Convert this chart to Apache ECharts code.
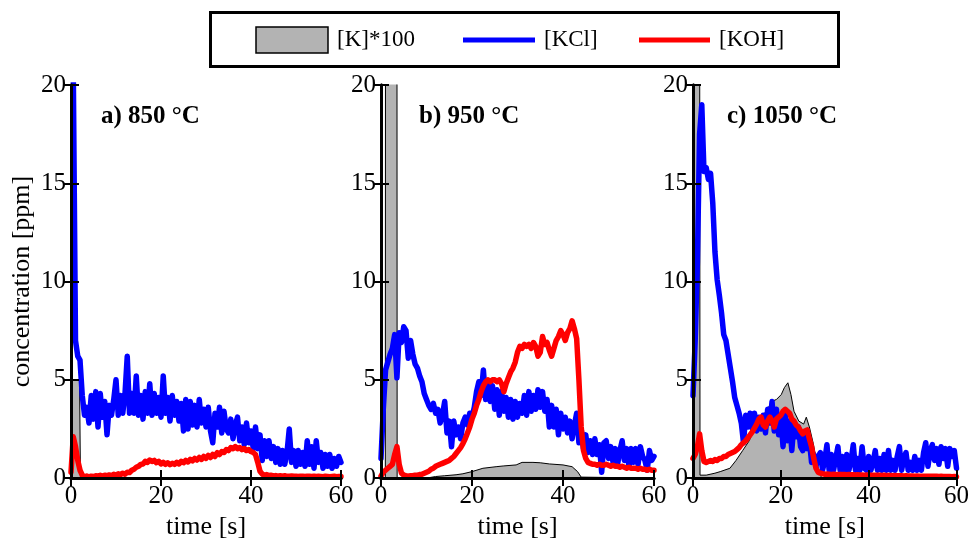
<!DOCTYPE html>
<html>
<head>
<meta charset="utf-8">
<script src="https://cdn.jsdelivr.net/npm/echarts@6/dist/echarts.min.js"></script>
<style>
html,body{margin:0;padding:0;background:#fff;}
#c{width:972px;height:545px;}
</style>
</head>
<body>
<div id="c"></div>
<script>
// sampling interval of the KCl / KOH traces [s]
const DT = 0.5;

const panelTitles = ['a) 850 °C', 'b) 950 °C', 'c) 1050 °C'];
const xTicks = [0, 20, 40, 60];
const yTicks = [0, 5, 10, 15, 20];
const seriesNames = ['[K]*100', '[KCl]', '[KOH]'];

// ---- panel a (850 °C) ----
const kA = [[0, 5], [1.9, 5], [2.1, 0], [60, 0]];
const kclA = [
  26, 21, 7.0, 6.2, 6.0, 4.2, 3.2, 3.6, 2.8, 4.2,
  3.0, 4.4, 2.6, 4.3, 3.1, 3.9, 2.2, 3.7, 3.2, 4.0,
  5.0, 3.2, 4.2, 3.3, 4.3, 6.2, 3.3, 4.3, 3.3, 5.2,
  3.2, 4.2, 3.0, 4.4, 3.3, 4.8, 3.2, 4.3, 3.3, 4.1,
  3.1, 5.2, 3.3, 4.1, 2.9, 4.2, 3.2, 3.9, 2.9, 3.8,
  2.4, 4.0, 2.5, 3.9, 2.7, 3.7, 2.6, 4.0, 2.8, 3.5,
  2.6, 3.6, 2.4, 1.8, 3.3, 2.6, 3.6, 2.3, 3.4, 2.5,
  2.3, 3.0, 2.0, 2.7, 3.1, 1.9, 2.6, 1.7, 2.8, 1.8,
  2.4, 1.5, 2.6, 1.5, 2.2, 0.9, 1.9, 1.1, 1.9, 1.0,
  1.6, 0.8, 1.5, 0.7, 1.4, 0.7, 1.3, 2.5, 0.8, 1.4,
  0.6, 1.4, 0.7, 1.3, 0.6, 1.9, 0.7, 1.6, 0.5, 1.9,
  0.8, 1.3, 0.5, 1.2, 0.6, 1.2, 0.5, 1.0, 0.6, 1.1,
  0.8
];
const kohA = [
  0.3, 2.1, 1.6, 0.9, 0.4, 0.15, 0.05, 0.1, 0.05, 0.1,
  0.08, 0.12, 0.1, 0.14, 0.1, 0.15, 0.12, 0.16, 0.12, 0.2,
  0.15, 0.22, 0.18, 0.25, 0.2, 0.3, 0.28, 0.4, 0.45, 0.55,
  0.6, 0.7, 0.72, 0.85, 0.8, 0.92, 0.85, 0.9, 0.78, 0.85,
  0.72, 0.8, 0.7, 0.78, 0.68, 0.75, 0.7, 0.8, 0.72, 0.85,
  0.78, 0.9, 0.82, 0.95, 0.88, 1.0, 0.92, 1.05, 0.95, 1.1,
  1.0, 1.15, 1.05, 1.2, 1.1, 1.3, 1.2, 1.35, 1.3, 1.45,
  1.4, 1.55, 1.5, 1.6, 1.5, 1.55, 1.45, 1.5, 1.4, 1.45,
  1.35, 1.3, 1.2, 0.8, 0.35, 0.2, 0.15, 0.18,
  0.12, 0.15, 0.1, 0.13, 0.1, 0.12, 0.1, 0.12, 0.09, 0.1,
  0.11, 0.09, 0.1, 0.08, 0.1, 0.09, 0.08, 0.1, 0.09, 0.08,
  0.1, 0.08, 0.09, 0.08, 0.07, 0.09, 0.08, 0.07, 0.08, 0.09,
  0.07, 0.08, 0.08
];

// ---- panel b (950 °C) ----
const kB = [[0, 0], [0.95, 0], [1.0, 30], [3.5, 30], [3.55, 0], [10, 0], [12, 0.08], [14, 0.12],
  [16.5, 0.17], [18, 0.22], [20, 0.33], [22.4, 0.5], [25.3, 0.58], [27, 0.62], [29.7, 0.67],
  [31, 0.8], [33.4, 0.8], [35, 0.78], [37, 0.72], [40, 0.67], [42, 0.58], [43.2, 0.33],
  [44, 0.05], [44.3, 0], [60, 0]];
const kclB = [
  1.0, 3.5, 5.5, 5.9, 6.3, 6.6, 7.3, 5.1, 7.4, 6.9,
  7.7, 7.5, 6.1, 7.0, 6.3, 5.8, 5.6, 5.2, 4.9, 4.3,
  4.0, 3.7, 3.5, 3.8, 3.3, 3.5, 2.8, 3.2, 3.9, 2.3,
  2.9, 1.6, 2.9, 2.2, 2.6, 2.0, 2.8, 3.1, 2.7, 3.3,
  3.1, 3.6, 4.4, 4.9, 4.2, 5.5, 4.0, 4.8, 3.9, 4.7,
  3.5, 4.5, 3.2, 4.4, 3.4, 4.1, 3.1, 4.0, 3.0, 3.9,
  3.1, 3.8, 3.3, 4.2, 3.2, 4.4, 3.4, 4.2, 3.5, 4.5,
  3.6, 4.4, 3.4, 4.0, 2.6, 3.7, 2.6, 3.5, 2.2, 3.3,
  2.5, 3.1, 2.3, 2.9, 2.0, 2.7, 3.3, 1.8, 2.5, 1.5,
  2.2, 1.3, 1.9, 1.2, 2.0, 1.2, 1.7, 0.3, 1.8, 1.9,
  1.0, 1.6, 0.8, 1.5, 0.7, 1.4, 1.9, 0.9, 1.5, 0.6,
  1.5, 0.8, 1.5, 0.7, 1.6, 1.1, 0.9, 0.4, 1.4, 0.9,
  1.1
];
const kohB = [
  0.1, 0.3, 0.4, 0.5, 0.6, 0.7, 1.2, 1.6, 0.7, 0.25,
  0.15, 0.12, 0.1, 0.12, 0.12, 0.15, 0.15, 0.18, 0.2, 0.25,
  0.3, 0.35, 0.45, 0.5, 0.6, 0.65, 0.7, 0.75, 0.8, 0.85,
  0.9, 1.0, 1.1, 1.25, 1.4, 1.55, 1.75, 2.0, 2.3, 2.6,
  3.0, 3.3, 3.7, 4.0, 4.4, 4.7, 4.9, 5.0, 4.9, 5.0,
  5.0, 4.9, 5.0, 4.8, 4.4, 4.8, 5.1, 5.4, 5.6, 5.9,
  6.4, 6.7, 6.6, 6.8, 6.7, 6.8, 6.6, 6.9, 6.7, 6.2,
  6.4, 7.2, 6.8, 6.9, 6.5, 6.2, 6.6, 7.0, 7.2, 7.5,
  7.3, 7.0, 7.4, 7.6, 8.0, 7.6, 7.1, 5.0, 2.6, 1.4,
  1.0, 0.8, 0.75, 0.7, 0.7, 0.65, 0.7, 0.65, 0.65, 0.7,
  0.65, 0.6, 0.65, 0.6, 0.6, 0.55, 0.6, 0.55, 0.5, 0.55,
  0.5, 0.5, 0.5, 0.45, 0.5, 0.45, 0.45, 0.4, 0.45, 0.4,
  0.4
];

// ---- panel c (1050 °C) ----
const kC = [[0, 30], [1.5, 30], [1.6, 0.15], [3, 0.15], [5, 0.25], [6.2, 0.33], [8.4, 0.5],
  [9.8, 0.9], [11.3, 1.4], [12.8, 1.9], [14.2, 2.6], [15.7, 3.1], [17.2, 3.6], [17.9, 3.9],
  [19, 4.0], [20.1, 4.25], [20.8, 4.6], [21.6, 4.85], [22.3, 4.25], [23, 3.4], [24.1, 2.9],
  [25.2, 2.75], [25.8, 3.1], [26.5, 2.6], [27.4, 1.75], [28.2, 0.75], [28.9, 0.25], [29.3, 0], [60, 0]];
const kclC = [
  4.2, 7.0, 11.0, 17.5, 19.0, 15.6, 15.8, 15.2, 15.5, 14.0,
  11.5, 10.1, 9.3, 8.4, 7.3, 7.0, 6.3, 5.6, 4.9, 4.1,
  3.7, 3.3, 2.8, 1.8, 3.2, 2.6, 3.3, 2.5, 3.3, 2.4,
  3.1, 2.5, 3.2, 2.3, 3.5, 2.8, 3.9, 2.4, 3.5, 2.2,
  3.1, 1.6, 3.2, 1.9, 2.9, 1.4, 2.8, 2.1, 2.6, 1.6,
  1.4, 2.3, 1.5, 1.9, 0.8, 1.2, 0.6, 1.1, 1.3, 0.4,
  0.9, 1.7, 0.4, 1.2, 0.4, 1.0, 1.6, 0.4, 1.1, 0.4,
  1.2, 0.4, 0.9, 1.7, 0.4, 1.0, 0.4, 1.6, 0.5, 0.4,
  1.1, 0.4, 0.8, 1.4, 0.4, 1.0, 0.4, 1.2, 0.4, 1.4,
  0.4, 0.9, 0.4, 1.1, 1.6, 0.4, 1.0, 1.3, 0.4, 0.8,
  0.4, 1.1, 0.4, 0.9, 0.4, 1.3, 1.8, 0.6, 1.4, 1.7,
  0.9, 1.5, 0.7, 1.6, 1.0, 1.5, 0.6, 1.5, 1.1, 1.4,
  0.5
];
const kohC = [
  1.0, 1.2, 1.6, 2.25, 1.4, 0.85, 0.8, 0.85, 0.9, 0.85,
  0.95, 0.9, 1.0, 1.0, 1.1, 1.1, 1.2, 1.25, 1.3, 1.35,
  1.45, 1.55, 1.7, 1.8, 1.9, 2.05, 2.2, 2.35, 2.55, 2.75,
  3.0, 3.1, 2.7, 2.6, 2.9, 3.1, 2.9, 2.6, 3.0, 3.1,
  3.2, 3.4, 3.5, 3.4, 3.3, 3.0, 2.9, 2.7, 2.6, 2.4,
  2.25, 2.4, 2.45, 2.0, 1.6, 1.0, 0.5, 0.3, 0.25, 0.22,
  0.2, 0.21, 0.2, 0.19, 0.2, 0.19, 0.18, 0.19, 0.18, 0.18,
  0.17, 0.18, 0.17, 0.17, 0.16, 0.17, 0.16, 0.16, 0.15, 0.16,
  0.15, 0.15, 0.14, 0.15, 0.14, 0.14, 0.13, 0.14, 0.13, 0.13,
  0.13, 0.12, 0.13, 0.12, 0.12, 0.12, 0.11, 0.12, 0.11, 0.11,
  0.11, 0.1, 0.11, 0.1, 0.1, 0.1, 0.1, 0.09, 0.1, 0.09,
  0.09, 0.09, 0.08, 0.09, 0.08, 0.08, 0.08, 0.08, 0.07, 0.08,
  0.07
];

const FONT = 'Liberation Serif';
const panels = [
  { k: kA, kcl: kclA, koh: kohA, left: 71, width: 270, titleX: 101 },
  { k: kB, kcl: kclB, koh: kohB, left: 381, width: 273, titleX: 419 },
  { k: kC, kcl: kclC, koh: kohC, left: 693, width: 273, titleX: 727 }
];
const TOP = 85, HEIGHT = 400;

function timed(vals) { return vals.map((v, i) => [i * DT, v]); }

const grids = [], xAxes = [], yAxes = [], series = [], graphics = [];
const lblStyle = { fontFamily: FONT, fontSize: 25, color: '#000' };

panels.forEach((p, i) => {
  grids.push({ left: p.left, top: TOP, width: p.width, height: HEIGHT, containLabel: false });
  const axLine = { show: true, lineStyle: { color: '#000', width: 3 } };
  const tick = { show: true, inside: true, length: 8, lineStyle: { color: '#000', width: 2 } };
  xAxes.push({
    gridIndex: i, type: 'value', min: xTicks[0], max: xTicks[xTicks.length - 1], interval: xTicks[1] - xTicks[0],
    position: 'bottom', z: 10, axisLine: axLine, axisTick: tick, splitLine: { show: false },
    axisLabel: Object.assign({ margin: 6 }, lblStyle),
    name: 'time [s]', nameLocation: 'middle', nameGap: 33,
    nameTextStyle: { fontFamily: FONT, fontSize: 26, color: '#000' }
  });
  xAxes.push({
    gridIndex: i, type: 'value', min: xTicks[0], max: xTicks[xTicks.length - 1], interval: xTicks[1] - xTicks[0],
    position: 'top', z: 10, axisLine: axLine, axisTick: tick, splitLine: { show: false },
    axisLabel: { show: false }
  });
  yAxes.push(Object.assign({
    gridIndex: i, type: 'value', min: yTicks[0], max: yTicks[yTicks.length - 1], interval: yTicks[1] - yTicks[0],
    position: 'left', z: 10, axisLine: axLine, axisTick: tick, splitLine: { show: false },
    axisLabel: Object.assign({ margin: 5 }, lblStyle)
  }, i === 0 ? {
    name: 'concentration [ppm]', nameLocation: 'middle', nameGap: 36, nameRotate: 90,
    nameTextStyle: { fontFamily: FONT, fontSize: 26, color: '#000' }
  } : {}));
  yAxes.push({
    gridIndex: i, type: 'value', min: yTicks[0], max: yTicks[yTicks.length - 1], interval: yTicks[1] - yTicks[0],
    position: 'right', z: 10, axisLine: axLine, axisTick: tick, splitLine: { show: false },
    axisLabel: { show: false }
  });
  series.push({
    name: seriesNames[0], type: 'line', xAxisIndex: 2 * i, yAxisIndex: 2 * i, data: p.k,
    showSymbol: false, symbol: 'none', z: 1, clip: true,
    lineStyle: { color: '#000', width: 1 }, itemStyle: { color: '#b3b3b3' },
    areaStyle: { color: '#b3b3b3', opacity: 1 }
  });
  series.push({
    name: seriesNames[1], type: 'line', xAxisIndex: 2 * i, yAxisIndex: 2 * i, data: timed(p.kcl),
    showSymbol: false, symbol: 'none', z: 2, clip: true,
    lineStyle: { color: '#0000ff', width: 5.5, cap: 'round', join: 'round' }, itemStyle: { color: '#0000ff' }
  });
  series.push({
    name: seriesNames[2], type: 'line', xAxisIndex: 2 * i, yAxisIndex: 2 * i, data: timed(p.koh),
    showSymbol: false, symbol: 'none', z: 3, clip: true,
    lineStyle: { color: '#ff0000', width: 5.5, cap: 'round', join: 'round' }, itemStyle: { color: '#ff0000' }
  });
  graphics.push({
    type: 'text', left: p.titleX, top: 104, z: 20,
    style: { text: panelTitles[i], font: 'bold 25px "Liberation Serif"', fill: '#000' }
  });
});

// legend box
graphics.push({ type: 'rect', z: 20, shape: { x: 210.5, y: 12.5, width: 628, height: 54 },
  style: { fill: '#fff', stroke: '#000', lineWidth: 3 } });
graphics.push({ type: 'rect', z: 21, shape: { x: 256, y: 27, width: 72, height: 26 },
  style: { fill: '#b3b3b3', stroke: '#000', lineWidth: 1.5 } });
graphics.push({ type: 'text', z: 21, x: 337, y: 40,
  style: { text: seriesNames[0], font: '23px "Liberation Serif"', fill: '#000', verticalAlign: 'middle' } });
graphics.push({ type: 'line', z: 21, shape: { x1: 463, y1: 40, x2: 535, y2: 40 },
  style: { stroke: '#0000ff', lineWidth: 5 } });
graphics.push({ type: 'text', z: 21, x: 544, y: 40,
  style: { text: seriesNames[1], font: '23px "Liberation Serif"', fill: '#000', verticalAlign: 'middle' } });
graphics.push({ type: 'line', z: 21, shape: { x1: 639, y1: 40, x2: 710, y2: 40 },
  style: { stroke: '#ff0000', lineWidth: 5 } });
graphics.push({ type: 'text', z: 21, x: 719, y: 40,
  style: { text: seriesNames[2], font: '23px "Liberation Serif"', fill: '#000', verticalAlign: 'middle' } });

const chart = echarts.init(document.getElementById('c'), null, { renderer: 'canvas' });
chart.setOption({
  backgroundColor: '#fff',
  animation: false,
  textStyle: { fontFamily: FONT },
  grid: grids,
  xAxis: xAxes,
  yAxis: yAxes,
  series: series,
  graphic: graphics
});
</script>
</body>
</html>
